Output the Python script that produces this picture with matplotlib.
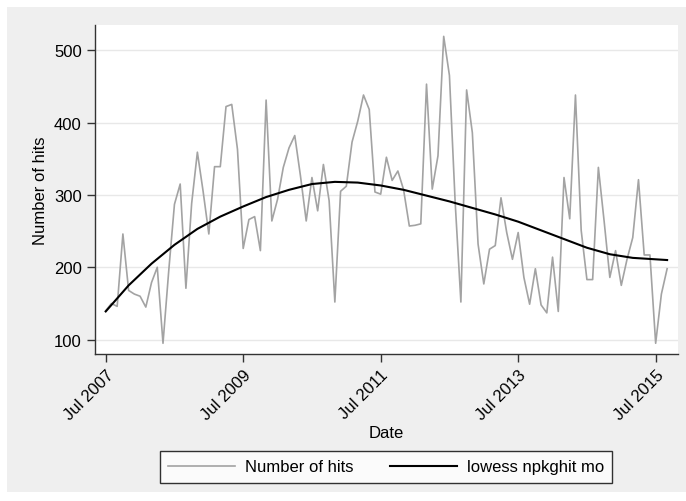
import matplotlib
matplotlib.use("Agg")
import matplotlib.pyplot as plt
from matplotlib.patches import Rectangle

plt.rcParams['font.family'] = ['Liberation Sans', 'DejaVu Sans']

# monthly hits, Jul 2007 .. Sep 2015
hits = [140, 150, 146, 246, 168, 163, 160, 145, 179, 200, 95, 195,
        287, 315, 171, 288, 359, 305, 246, 339, 339, 422, 425, 363,
        226, 266, 270, 223, 431, 264, 294, 338, 365, 382, 326, 264,
        324, 278, 342, 292, 152, 305, 312, 373, 402, 438, 418, 304,
        301, 352, 320, 333, 307, 257, 258, 260, 453, 308, 354, 519,
        465, 290, 152, 445, 386, 232, 177, 225, 230, 296, 248, 211,
        248, 186, 149, 198, 148, 137, 214, 139, 324, 267, 438, 251,
        183, 183, 338, 264, 186, 223, 175, 211, 241, 321, 217, 217,
        95, 163, 198]
months = list(range(len(hits)))

# lowess smooth
low_m = [0, 4, 8, 12, 16, 20, 24, 28, 32, 36, 40, 44, 48, 52, 56, 60,
         64, 68, 72, 76, 80, 84, 88, 92, 96, 98]
low_v = [139, 175, 205, 231, 253, 270, 284, 297, 307, 315, 318, 317, 313,
         307, 299, 291, 282, 273, 263, 251, 239, 227, 218, 213, 211, 210]

xticks = [0, 24, 48, 72, 96]
xlabels = ["Jul 2007", "Jul 2009", "Jul 2011", "Jul 2013", "Jul 2015"]
yticks = [100, 200, 300, 400, 500]

W, H = 686, 502
fig = plt.figure(figsize=(W / 100, H / 100), dpi=100)
fig.patch.set_facecolor("white")
fig.patches.append(Rectangle((7 / W, 9 / H), 1 - 7 / W, 1 - 17 / H,
                             transform=fig.transFigure, facecolor="#efefef",
                             edgecolor="none", zorder=-10))

ax = fig.add_axes([95 / W, 1 - 355 / H, (678 - 95) / W, (355 - 26) / H])
ax.set_facecolor("white")

ax.plot(months, hits, color="#a3a3a3", lw=1.2, label="Number of hits")
ax.plot(low_m, low_v, color="black", lw=1.5, label="lowess npkghit mo")

ax.set_xlim(-1.87, 99.9)
ax.set_ylim(80.2, 534.7)
ax.set_yticks(yticks)
ax.set_xticks(xticks)
ax.set_xticklabels(xlabels, rotation=45, ha="right", rotation_mode="anchor")
ax.grid(axis="y", color="#e8e8e8", lw=1)
ax.set_axisbelow(True)
for s in ["top", "right"]:
    ax.spines[s].set_visible(False)
for s in ["left", "bottom"]:
    ax.spines[s].set_color("#333333")
    ax.spines[s].set_linewidth(1)
ax.tick_params(length=6, width=1, color="#333333", labelsize=12)
ax.set_ylabel("Number of hits", fontsize=12, labelpad=4)
ax.set_xlabel("Date", fontsize=12, labelpad=2)

leg = fig.legend(loc="center", bbox_to_anchor=(386 / W, 1 - 468 / H), ncol=2,
                 fontsize=12, frameon=True, fancybox=False, edgecolor="black",
                 handlelength=4.0, handletextpad=0.6, columnspacing=2.2,
                 borderpad=0.5)
leg.get_frame().set_linewidth(1)

fig.savefig("out.png", dpi=100)
